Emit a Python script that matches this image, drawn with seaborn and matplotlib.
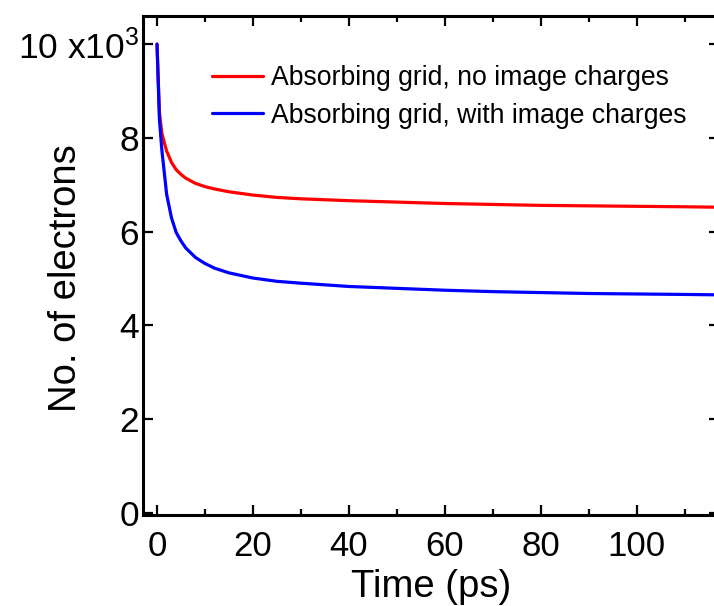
import matplotlib
matplotlib.use("Agg")
import matplotlib.pyplot as plt
from matplotlib.ticker import MultipleLocator, FixedLocator, FixedFormatter
import pandas as pd
import seaborn as sns

# ---------------------------------------------------------------
# data (electrons in units of 10^3)
# ---------------------------------------------------------------
time_ps = [0, 0.5, 1, 2, 3, 4, 5, 6, 8, 10, 12, 15, 20, 25, 30,
           40, 50, 60, 70, 80, 90, 100, 110, 118]
no_image = [10.0, 8.55, 8.1, 7.72, 7.48, 7.32, 7.22, 7.14, 7.03, 6.96, 6.91,
            6.85, 6.78, 6.73, 6.70, 6.66, 6.63, 6.60, 6.58, 6.56, 6.55,
            6.54, 6.53, 6.52]
with_image = [10.0, 8.4, 7.75, 6.8, 6.3, 5.98, 5.8, 5.65, 5.45, 5.32, 5.22,
              5.12, 5.01, 4.94, 4.90, 4.83, 4.79, 4.75, 4.72, 4.70, 4.68,
              4.67, 4.66, 4.65]
series_names = ["Absorbing grid, no image charges",
                "Absorbing grid, with image charges"]
series_colors = ["#ff0000", "#0000ff"]
y_ticks = [0, 2, 4, 6, 8, 10]
y_ticklabels = ["0", "2", "4", "6", "8", "10 x10$^{3}$"]

df = pd.concat([
    pd.DataFrame({"time": time_ps, "electrons": no_image, "case": series_names[0]}),
    pd.DataFrame({"time": time_ps, "electrons": with_image, "case": series_names[1]}),
])

sns.set_theme(style="ticks")
plt.rcParams["font.family"] = ["Liberation Sans", "DejaVu Sans"]
plt.rcParams["mathtext.fontset"] = "custom"
plt.rcParams["mathtext.rm"] = "Liberation Sans"
plt.rcParams["mathtext.it"] = "Liberation Sans"
plt.rcParams["text.color"] = "black"
plt.rcParams["axes.labelcolor"] = "black"
plt.rcParams["xtick.color"] = "black"
plt.rcParams["ytick.color"] = "black"

fig = plt.figure(figsize=(7.14, 6.06), dpi=100)
ax = fig.add_axes([143 / 714, 91 / 606, 576 / 714, 499 / 606])

sns.lineplot(data=df, x="time", y="electrons", hue="case",
             palette=series_colors, linewidth=2.3, ax=ax)

ax.set_xlim(-2.92, 117.1)
ax.set_ylim(-0.045, 10.6)

ax.xaxis.set_major_locator(MultipleLocator(20))
ax.xaxis.set_minor_locator(MultipleLocator(10))
ax.yaxis.set_major_locator(FixedLocator(y_ticks))
ax.yaxis.set_major_formatter(FixedFormatter(y_ticklabels))

ax.tick_params(which="both", direction="in", top=True, right=True,
               width=1.6, color="black", labelcolor="black")
ax.tick_params(which="major", length=7)
ax.tick_params(which="minor", length=4)
ax.tick_params(axis="x", labelsize=25, pad=11)
ax.tick_params(axis="y", labelsize=25.5, pad=3)

for sp in ax.spines.values():
    sp.set_linewidth(2.2)
    sp.set_color("black")

ax.set_xlabel("Time (ps)", fontsize=27.5, labelpad=4)
ax.set_ylabel("No. of electrons", fontsize=27.5)
ax.yaxis.set_label_coords(-0.102, 0.475)

leg = ax.legend(loc="upper left", bbox_to_anchor=(0.12, 0.902), frameon=False,
                fontsize=19.2, handlelength=1.9, handletextpad=0.3,
                labelspacing=0.44, borderpad=0, borderaxespad=0)
for line in leg.get_lines():
    line.set_linewidth(2.3)

fig.savefig("out.png", dpi=100)
